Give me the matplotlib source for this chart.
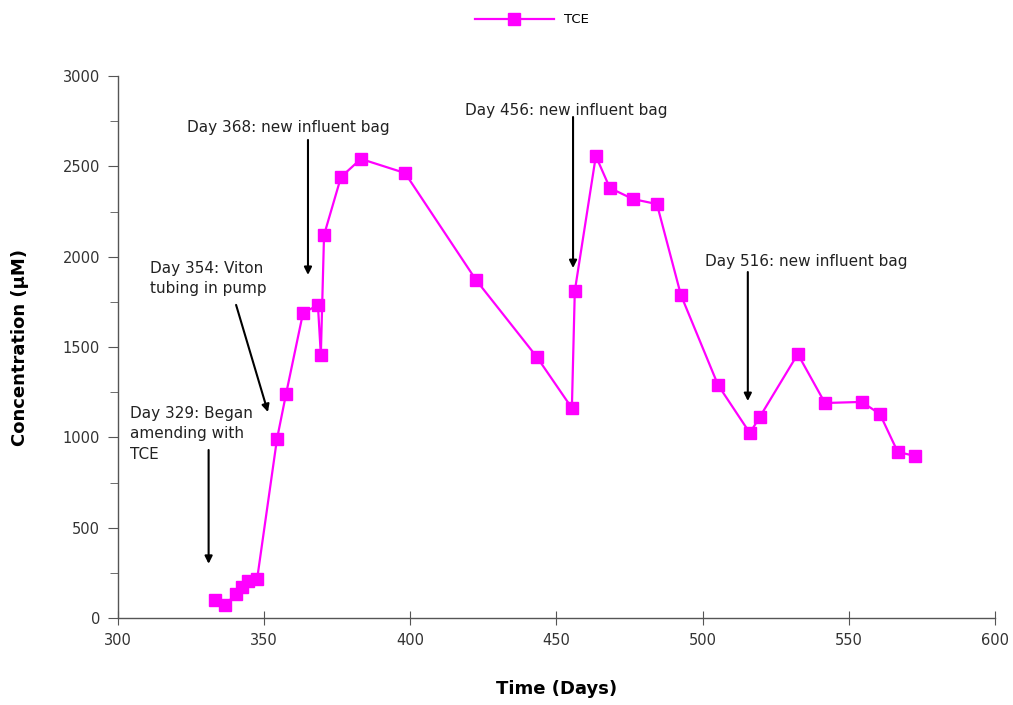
import matplotlib
matplotlib.use("Agg")
import matplotlib.pyplot as plt
from matplotlib.ticker import MultipleLocator

days = [333.2, 336.6, 340.4, 342.4, 344.5, 347.6, 354.4, 357.5, 363.3, 368.4,
        369.4, 370.5, 376.3, 383.1, 398.2, 422.5, 443.3, 455.3, 456.3, 463.5,
        468.3, 476.2, 484.4, 492.6, 505.3, 516.2, 519.6, 532.6, 541.9, 554.5,
        560.7, 566.8, 572.7]
tce = [100, 72, 133, 172, 205, 216, 991, 1240, 1688, 1732,
       1456, 2120, 2441, 2541, 2463, 1871, 1445, 1162, 1810, 2557,
       2380, 2319, 2291, 1788, 1290, 1024, 1113, 1461, 1190, 1196,
       1129, 919, 897]

notes = ["Day 329: Began\namending with\nTCE",
         "Day 354: Viton\ntubing in pump",
         "Day 368: new influent bag",
         "Day 456: new influent bag",
         "Day 516: new influent bag"]
note_text_xy = [(304.0, 1173), (311.0, 1976), (323.6, 2756), (418.7, 2850), (500.7, 2015)]
arrow_start = [(331.0, 930), (340.4, 1733), (365.0, 2646), (455.7, 2773), (515.5, 1915)]
arrow_end = [(331.0, 300), (351.3, 1140), (365.0, 1899), (455.7, 1937), (515.5, 1201)]

fig = plt.figure(figsize=(10.13, 7.05), dpi=100)
ax = fig.add_axes([0.1165, 0.1234, 0.8655, 0.7688])

ax.plot(days, tce, color="#FF00FF", lw=1.6, marker="s", markersize=8.5,
        markerfacecolor="#FF00FF", markeredgecolor="#FF00FF", label="TCE")

for txt, (tx, ty), (sx, sy), (ex, ey) in zip(notes, note_text_xy, arrow_start, arrow_end):
    ax.text(tx, ty, txt, fontsize=11, color="#222222", ha="left", va="top",
            linespacing=1.45)
    ax.annotate("", xy=(ex, ey), xytext=(sx, sy),
                arrowprops=dict(arrowstyle="-|>", color="black", lw=1.5,
                                mutation_scale=11, shrinkA=0, shrinkB=0))

ax.set_xlim(300, 600)
ax.set_ylim(0, 3000)
ax.xaxis.set_major_locator(MultipleLocator(50))
ax.yaxis.set_major_locator(MultipleLocator(500))
ax.yaxis.set_minor_locator(MultipleLocator(250))
for s in ["top", "right"]:
    ax.spines[s].set_visible(False)
for s in ["left", "bottom"]:
    ax.spines[s].set_color("#555555")
    ax.spines[s].set_linewidth(1.0)
ax.tick_params(axis="y", which="major", direction="out", length=7, color="#555555",
               labelsize=10.5, labelcolor="#333333", pad=6)
ax.tick_params(axis="y", which="minor", direction="out", length=6, color="#555555")
ax.tick_params(axis="x", which="major", direction="inout", length=10, color="#555555",
               labelsize=10.5, labelcolor="#333333", pad=6)

ax.set_xlabel("Time (Days)", fontsize=13, fontweight="bold", labelpad=23)
ax.set_ylabel("Concentration (\u00b5M)", fontsize=13, fontweight="bold", labelpad=24)

fig.legend(loc="upper center", bbox_to_anchor=(0.525, 0.998), frameon=False,
           fontsize=9.5, handlelength=6, handletextpad=0.8)

fig.savefig("out.png", dpi=100)
